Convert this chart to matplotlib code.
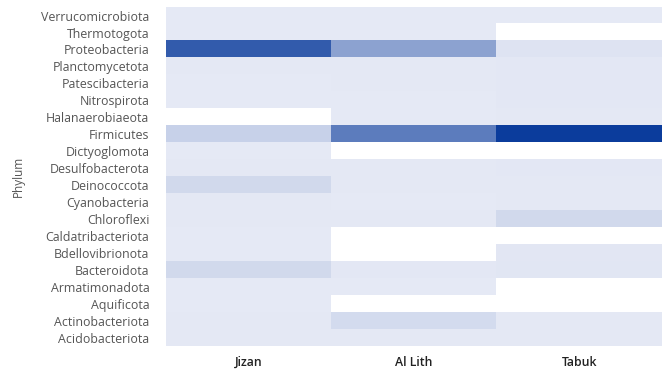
import numpy as np
import matplotlib.pyplot as plt
from matplotlib.colors import LinearSegmentedColormap

plt.rcParams['font.family'] = ['Open Sans', 'DejaVu Sans']

# phyla from top row to bottom row
phyla = [
    "Verrucomicrobiota", "Thermotogota", "Proteobacteria", "Planctomycetota",
    "Patescibacteria", "Nitrospirota", "Halanaerobiaeota", "Firmicutes",
    "Dictyoglomota", "Desulfobacterota", "Deinococcota", "Cyanobacteria",
    "Chloroflexi", "Caldatribacteriota", "Bdellovibrionota", "Bacteroidota",
    "Armatimonadota", "Aquificota", "Actinobacteriota", "Acidobacteriota",
]
sites = ["Jizan", "Al Lith", "Tabuk"]

nan = np.nan
# relative abundance (%) per site, NaN = not detected
jizan = [0.3, 0.2, 72.0, 0.4, 0.3, 0.2, nan, 12.0, 0.2, 0.5,
         8.0, 0.4, 0.6, 0.2, 0.2, 8.0, 0.2, 0.2, 0.5, 0.4]
al_lith = [0.3, 0.2, 36.0, 0.5, 0.4, 0.3, 0.2, 55.0, nan, 0.4,
           0.5, 0.3, 0.6, nan, nan, 0.8, 0.2, nan, 7.0, 0.4]
tabuk = [0.3, nan, 3.0, 0.9, 1.0, 0.9, 0.6, 88.0, nan, 0.9,
         0.6, 0.5, 8.0, nan, 1.2, 1.5, nan, nan, 0.6, 0.4]

data = np.array([jizan, al_lith, tabuk]).T

cmap = LinearSegmentedColormap.from_list("blues_soft", ["#e5e9f5", "#0b3c9c"])
cmap.set_bad("white")

fig = plt.figure(figsize=(6.68, 3.73), dpi=100)
ax = fig.add_axes([0.2485, 0.072, 0.7425, 0.909])

ax.imshow(np.ma.masked_invalid(data), cmap=cmap, vmin=0, vmax=np.nanmax(data),
          aspect="auto", interpolation="nearest")

ax.set_xticks(range(len(sites)))
ax.set_xticklabels(sites, fontsize=8.8, color="#222222", fontweight="semibold")
ax.set_yticks(range(len(phyla)))
ax.set_yticklabels(phyla, fontsize=8.9, color="#555555")
ax.tick_params(axis="y", length=0, pad=12)
ax.tick_params(axis="x", length=0, pad=7)
ax.set_ylabel("Phylum", fontsize=8.5, color="#555555", labelpad=12)

for s in ax.spines.values():
    s.set_visible(False)

fig.savefig("out.png", dpi=100)
